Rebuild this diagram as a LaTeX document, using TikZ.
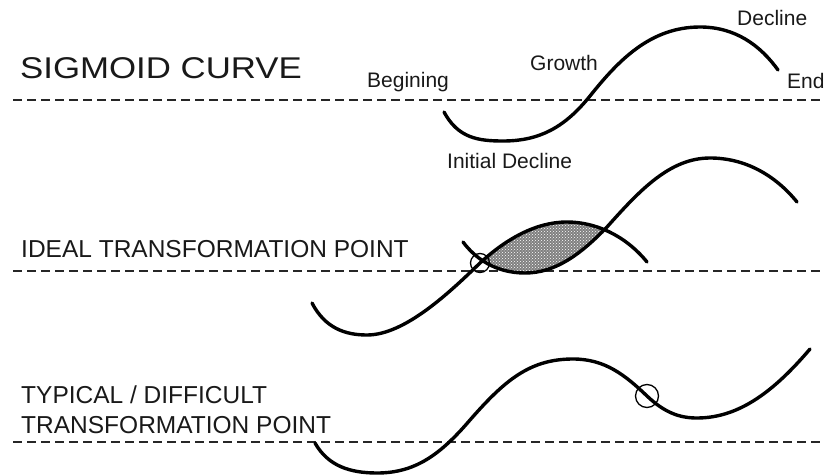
\documentclass[tikz,border=0pt]{standalone}
\usepackage{fontspec}
\setmainfont{Liberation Sans}
\usetikzlibrary{patterns}
\begin{document}
\begin{tikzpicture}[x=1pt,y=-1pt,
  curve/.style={line width=3.4pt, line cap=round, line join=round},
  guide/.style={line width=2.2pt, draw=black!85, dash pattern=on 9pt off 5pt},
  lbl/.style={anchor=base west, inner sep=0pt, text=black!90, font=\fontsize{21}{25}\selectfont},
  head/.style={anchor=base west, inner sep=0pt, text=black!90, font=\fontsize{24.5}{29}\selectfont},
  ring/.style={circle, draw, line width=1.3pt, inner sep=0pt}
]
\useasboundingbox (0,0) rectangle (824,476);

% guide lines
\coordinate (g1a) at (13,100);  \coordinate (g1b) at (824,100);
\coordinate (g2a) at (13,271);  \coordinate (g2b) at (824,271);
\coordinate (g3a) at (13,442);  \coordinate (g3b) at (824,442);
\draw[guide] (g1a) -- (g1b);
\draw[guide] (g2a) -- (g2b);
\draw[guide] (g3a) -- (g3b);

% headings
\node[anchor=base west, inner sep=0pt, text=black!90, font=\fontsize{30}{36}\selectfont] (title) at (20,79) {\scalebox{1.16}[1]{SIGMOID CURVE}};
\node[head] (ideal) at (21,257) {IDEAL TRANSFORMATION POINT};
\node[head] (typ1) at (21,403) {TYPICAL / DIFFICULT};
\node[head] (typ2) at (21,433) {TRANSFORMATION POINT};

% labels
\node[lbl] (beg) at (367,88) {Begining};
\node[lbl] (gro) at (530,71) {Growth};
\node[lbl] (dec) at (737,26) {Decline};
\node[lbl] (end) at (787,89) {End};
\node[lbl] (ini) at (447,168) {Initial Decline};

% curve 1
\draw[curve] (444,112) .. controls (458,138) and (478,141) .. (503,141)
  .. controls (540,141) and (565,127) .. (590,96)
  .. controls (618,61) and (650,27) .. (700,27)
  .. controls (735,27) and (760,45) .. (778,70);

% lens fill
\begin{scope}
\clip (312,303) .. controls (325,328) and (345,335) .. (367,335)
  .. controls (405,335) and (450,292) .. (480,263)
  .. controls (505,240) and (535,222) .. (567,222)
  .. controls (595,222) and (625,235) .. (647,262)
  -- (647,476) -- (312,476) -- cycle;
\clip (463,242) .. controls (475,258) and (495,273) .. (525,273)
  .. controls (555,273) and (580,255) .. (607,227)
  .. controls (640,190) and (670,158) .. (710,158)
  .. controls (745,158) and (775,175) .. (797,202)
  -- (797,0) -- (463,0) -- cycle;
\fill[black!50] (0,0) rectangle (824,476);
\fill[pattern=crosshatch dots, pattern color=white] (0,0) rectangle (824,476);
\end{scope}

% curve 2 old
\draw[curve] (312,303) .. controls (325,328) and (345,335) .. (367,335)
  .. controls (405,335) and (450,292) .. (480,263)
  .. controls (505,240) and (535,222) .. (567,222)
  .. controls (595,222) and (625,235) .. (647,262);
% curve 2 new
\draw[curve] (463,242) .. controls (475,258) and (495,273) .. (525,273)
  .. controls (555,273) and (580,255) .. (607,227)
  .. controls (640,190) and (670,158) .. (710,158)
  .. controls (745,158) and (775,175) .. (797,202);
\node[ring, minimum size=19pt] (c2) at (480,263) {};

% curve 3
\draw[curve] (315,443) .. controls (328,466) and (350,473) .. (377,473)
  .. controls (415,473) and (440,455) .. (470,420)
  .. controls (505,380) and (530,359) .. (573,359)
  .. controls (605,359) and (625,375) .. (647,396)
  .. controls (665,413) and (680,418) .. (697,418)
  .. controls (740,418) and (775,390) .. (810,349);
\node[ring, minimum size=23pt] (c3) at (647,396) {};
\end{tikzpicture}
\end{document}
